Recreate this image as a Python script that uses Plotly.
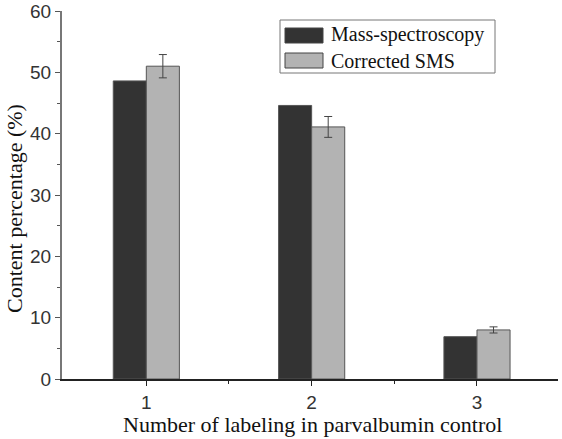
import plotly.graph_objects as go

categories = [1, 2, 3]
tick_labels = ["1", "2", "3"]
mass_spec = [48.6, 44.6, 6.9]
corrected_sms = [51.0, 41.1, 8.0]
corrected_err = [1.9, 1.7, 0.5]
series_names = ["Mass-spectroscopy", "Corrected SMS"]
series_colors = ["#333333", "#b3b3b3"]

W, H = 562, 439
# target plot area in screen pixels
SL, SR, ST, SB = 62, 558, 11, 379
L, T = SL, ST
R = W - SR
B = H - SB
PW, PH = SR - SL, SB - ST


def px(x):
    return (x - SL) / PW


def py(y):
    return (SB - y) / PH


fig = go.Figure()
fig.add_trace(go.Bar(
    x=categories, y=mass_spec, name=series_names[0],
    width=0.2, offset=-0.2,
    marker=dict(color=series_colors[0], line=dict(color="#555555", width=1)),
))
fig.add_trace(go.Bar(
    x=categories, y=corrected_sms, name=series_names[1],
    width=0.2, offset=0.0,
    marker=dict(color=series_colors[1], line=dict(color="#555555", width=1)),
    error_y=dict(type="data", array=corrected_err, color="#444444", thickness=1, width=4),
))

shapes = [
    dict(type="rect", xref="paper", yref="paper",
         x0=px(280), x1=px(495), y0=py(73), y1=py(20),
         line=dict(color="#777777", width=1), fillcolor="white", layer="above"),
]
annotations = []
rows = [(28, 43, 35), (53, 68, 61)]
for (y0, y1, yc), name, col in zip(rows, series_names, series_colors):
    shapes.append(dict(type="rect", xref="paper", yref="paper",
                       x0=px(285), x1=px(323), y0=py(y1), y1=py(y0),
                       line=dict(color="#444444", width=1), fillcolor=col, layer="above"))
    annotations.append(dict(text=name, xref="paper", yref="paper",
                            x=px(329), y=py(yc), xanchor="left", yanchor="middle",
                            showarrow=False,
                            font=dict(family="Liberation Serif", size=20, color="#111111")))

annotations.append(dict(text="Number of labeling in parvalbumin control",
                        xref="paper", yref="paper", x=px(312), y=py(424),
                        xanchor="center", yanchor="middle", showarrow=False,
                        font=dict(family="Liberation Serif", size=22, color="#111111")))
annotations.append(dict(text="Content percentage (%)",
                        xref="paper", yref="paper", x=px(14), y=py(209),
                        xanchor="center", yanchor="middle", showarrow=False, textangle=-90,
                        font=dict(family="Liberation Serif", size=22, color="#111111")))

fig.update_layout(
    width=W, height=H,
    margin=dict(l=L, r=R, t=T, b=B, autoexpand=False),
    paper_bgcolor="white", plot_bgcolor="white",
    barmode="overlay",
    showlegend=False,
    shapes=shapes,
    annotations=annotations,
    xaxis=dict(
        range=[0.49, 3.49], automargin=False,
        tickmode="array", tickvals=categories, ticktext=tick_labels,
        ticks="outside", ticklen=5, tickcolor="#222222",
        showline=True, linecolor="#222222", linewidth=1.5,
        showgrid=False, zeroline=False,
        tickfont=dict(family="Liberation Sans", size=19, color="#333333"),
        minor=dict(ticks="outside", ticklen=3, tickcolor="#222222",
                   tickmode="array", tickvals=[1.5, 2.5]),
    ),
    yaxis=dict(
        range=[0, 60], automargin=False,
        tickmode="linear", tick0=0, dtick=10,
        ticks="outside", ticklen=5, tickcolor="#555555",
        showline=True, linecolor="#777777", linewidth=2,
        showgrid=False, zeroline=False,
        tickfont=dict(family="Liberation Sans", size=19, color="#333333"),
        minor=dict(ticks="outside", ticklen=3, tickcolor="#555555", dtick=5, tick0=0),
    ),
)

fig.write_html("out.html",
               config={"displayModeBar": False},
               post_script="document.body.style.margin='0';document.body.style.overflow='hidden';")
